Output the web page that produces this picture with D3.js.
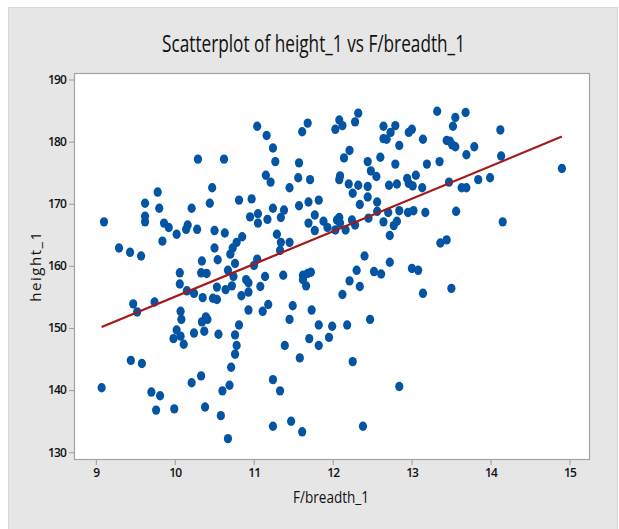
<!DOCTYPE html>
<html>
<head>
<meta charset="utf-8">
<script src="https://cdn.jsdelivr.net/npm/d3@7"></script>
<style>
  html, body { margin: 0; padding: 0; background: #ffffff; }
  svg { display: block; }
</style>
</head>
<body>
<svg id="chart" width="619" height="529"></svg>
<script>
// ---- Data ----
const breadth = [
  11.05,10.30,10.63,10.48,9.79,9.63,10.45,10.82,10.98,9.81,10.22,9.63,9.63,9.11,10.96,11.06,11.06,9.87,9.93,10.03,
  10.15,10.17,10.29,10.51,10.64,10.86,9.85,9.30,9.44,9.58,10.51,10.79,10.74,10.71,10.35,10.55,11.05,
  10.77,10.34,10.41,10.07,10.68,10.75,11.01,10.07,10.16,10.25,10.36,10.49,10.54,10.54,10.65,10.73,10.91,10.94,10.94,10.85,
  11.09,9.48,9.53,9.75,10.08,10.09,10.35,10.40,10.42,10.03,9.99,10.08,10.12,10.25,10.38,10.56,10.77,10.82,10.94,10.79,
  10.77,10.72,9.45,9.59,9.08,9.71,9.82,9.77,10.00,10.22,10.34,10.39,10.61,10.70,10.59,10.68,
  11.17,11.25,11.28,11.16,11.22,11.18,11.25,11.35,11.39,11.30,11.35,11.34,11.46,11.46,11.58,11.57,11.72,11.62,11.69,11.58,
  11.70,11.83,11.78,11.70,11.78,11.89,11.94,12.04,12.06,12.09,12.10,12.17,12.25,12.29,12.41,12.09,12.13,12.04,12.29,12.33,
  12.22,12.15,12.10,12.09,12.21,12.33,12.26,12.45,12.49,12.56,12.45,12.45,12.57,12.35,12.57,12.46,12.61,12.65,12.65,12.69,
  12.74,12.80,12.85,12.97,13.01,13.15,12.80,12.72,12.82,12.95,12.97,13.02,13.06,13.14,13.20,12.71,12.85,12.96,13.03,13.18,
  12.65,12.78,12.82,12.73,12.73,
  13.33,13.56,13.53,13.69,13.45,13.49,13.52,13.56,13.80,14.13,13.70,14.14,13.36,13.48,13.64,13.70,13.85,14.00,14.91,13.57,
  14.16,13.37,13.45,
  11.15,11.38,11.19,11.12,11.50,11.46,11.74,11.63,11.69,11.73,11.63,11.67,11.83,12.00,11.71,11.96,11.83,11.40,11.59,12.19,
  12.48,12.26,12.13,12.22,12.35,12.31,12.53,12.62,13.01,13.09,13.15,12.85,11.25,11.34,11.25,11.48,11.62,12.39,13.51
];
const height = [
  182.4,177.1,177.1,172.5,171.8,170.0,170.0,170.5,170.7,169.2,169.2,167.9,167.0,167.0,167.8,168.3,166.8,166.8,166.1,165.0,
  165.8,166.5,165.8,165.6,165.2,164.6,163.9,162.8,162.1,161.5,162.8,163.7,162.8,161.8,160.7,160.9,161.0,
  160.3,158.8,158.7,158.8,159.2,158.2,160.0,157.0,155.9,155.5,154.8,154.7,154.5,156.5,156.1,156.7,157.7,157.2,155.7,155.1,
  156.6,153.8,152.5,154.1,152.6,151.3,150.9,151.7,151.3,149.6,148.2,148.6,147.3,149.1,149.4,148.9,148.8,150.4,152.8,147.1,
  145.7,143.6,144.7,144.2,140.3,139.6,139.0,136.7,136.9,141.1,142.2,137.2,139.8,140.7,135.8,132.1,
  180.9,178.9,176.7,174.5,173.4,167.4,169.2,167.7,168.9,165.0,163.7,162.4,163.7,172.5,176.5,174.1,173.8,181.5,182.9,169.6,
  170.2,170.5,168.1,166.8,165.6,167.1,166.1,165.7,167.3,167.7,166.8,165.7,167.3,166.5,161.5,183.4,182.5,181.9,183.1,184.5,
  178.5,177.3,174.4,173.8,173.1,172.9,171.6,176.7,175.2,174.3,172.7,171.0,170.2,169.8,168.7,167.6,177.4,182.4,180.4,180.3,
  181.4,182.5,179.3,181.4,181.9,180.3,176.3,172.9,173.1,174.0,173.2,172.8,174.5,172.5,176.3,168.5,168.8,168.5,168.8,168.5,
  167.0,166.4,167.1,164.8,160.5,
  184.8,183.8,182.4,184.6,180.1,180.0,179.4,179.1,179.1,181.8,177.8,177.6,176.7,173.4,172.5,172.5,173.8,174.1,175.6,168.7,
  167.0,163.6,164.1,
  158.2,158.4,153.7,152.6,153.5,151.3,152.8,158.4,158.7,158.9,157.7,156.7,150.4,150.2,148.2,148.4,147.1,147.1,145.1,150.4,
  151.3,144.5,155.3,157.5,156.6,159.2,159.0,158.6,159.5,159.2,155.5,140.5,141.6,139.8,134.1,134.9,133.2,134.1,156.3
];
const xTicks = [9, 10, 11, 12, 13, 14, 15];
const yTicks = [130, 140, 150, 160, 170, 180, 190];
// fitted regression line: height_1 = intercept + slope * F/breadth_1
const fitIntercept = [102.3];
const fitSlope = [5.26];

const titleText = "Scatterplot of height_1 vs F/breadth_1";
const xLabel = "F/breadth_1";
const yLabel = "height_1";

// ---- Drawing ----
const svg = d3.select("#chart");
const W = 619, H = 529;
const plot = { left: 74, top: 73, right: 589, bottom: 459 };

svg.append("rect").attr("x", 0).attr("y", 0).attr("width", W).attr("height", H).attr("fill", "#ffffff");
svg.append("rect").attr("x", 8.5).attr("y", 7.5).attr("width", 609).attr("height", 522)
  .attr("fill", "#e6e6e6").attr("stroke", "#d6d6d6").attr("stroke-width", 1);

const x = d3.scaleLinear().domain([8.730, 15.253]).range([plot.left, plot.right]);
const y = d3.scaleLinear().domain([128.825, 190.966]).range([plot.bottom, plot.top]);

svg.append("rect")
  .attr("x", plot.left + 0.5).attr("y", plot.top + 0.5)
  .attr("width", plot.right - plot.left).attr("height", plot.bottom - plot.top)
  .attr("fill", "#ffffff").attr("stroke", "#a3a3a3").attr("stroke-width", 1.2);

const fontFam = "'Open Sans', 'Noto Sans', sans-serif";

const xAxis = svg.append("g")
  .attr("transform", `translate(0.5,${plot.bottom + 1})`)
  .call(d3.axisBottom(x).tickValues(xTicks).tickFormat(d3.format("d")).tickSize(5).tickPadding(3));
const yAxis = svg.append("g")
  .attr("transform", `translate(${plot.left},0.5)`)
  .call(d3.axisLeft(y).tickValues(yTicks).tickFormat(d3.format("d")).tickSize(5).tickPadding(3));

[xAxis, yAxis].forEach(g => {
  g.select(".domain").remove();
  g.selectAll(".tick line").attr("stroke", "#9a9a9a").attr("stroke-width", 1);
  g.selectAll(".tick text")
    .attr("fill", "#111111")
    .style("font-family", fontFam)
    .style("font-size", "12px")
    .style("font-weight", "600")
    .style("letter-spacing", "-0.9px");
});

// points
const pts = breadth.map((b, i) => ({ b, h: height[i] }));
svg.append("g").selectAll("ellipse").data(pts).join("ellipse")
  .attr("cx", d => x(d.b))
  .attr("cy", d => y(d.h))
  .attr("rx", 4.1)
  .attr("ry", 4.7)
  .attr("fill", "#0454a4");

// fitted line across the data range
const bMin = d3.min(breadth), bMax = d3.max(breadth);
const fitLine = [bMin, bMax].map(b => ({ b, h: fitIntercept[0] + fitSlope[0] * b }));
svg.append("path")
  .datum(fitLine)
  .attr("d", d3.line().x(d => x(d.b)).y(d => y(d.h)))
  .attr("fill", "none")
  .attr("stroke", "#a31a1a")
  .attr("stroke-width", 2.2);

// title
svg.append("text")
  .attr("x", 313.5).attr("y", 52)
  .attr("text-anchor", "middle")
  .attr("textLength", 303).attr("lengthAdjust", "spacingAndGlyphs")
  .style("font-family", fontFam)
  .style("font-size", "24px")
  .attr("fill", "#111111")
  .text(titleText);

// x label
svg.append("text")
  .attr("x", 331).attr("y", 503)
  .attr("text-anchor", "middle")
  .attr("textLength", 76).attr("lengthAdjust", "spacingAndGlyphs")
  .style("font-family", fontFam)
  .style("font-size", "17px")
  .attr("fill", "#111111")
  .text(xLabel);

// y label
svg.append("text")
  .attr("transform", "translate(41,266) rotate(-90)")
  .attr("text-anchor", "middle")
  .style("font-family", fontFam)
  .style("font-size", "15px")
  .style("letter-spacing", "1.5px")
  .attr("fill", "#111111")
  .text(yLabel);
</script>
</body>
</html>
